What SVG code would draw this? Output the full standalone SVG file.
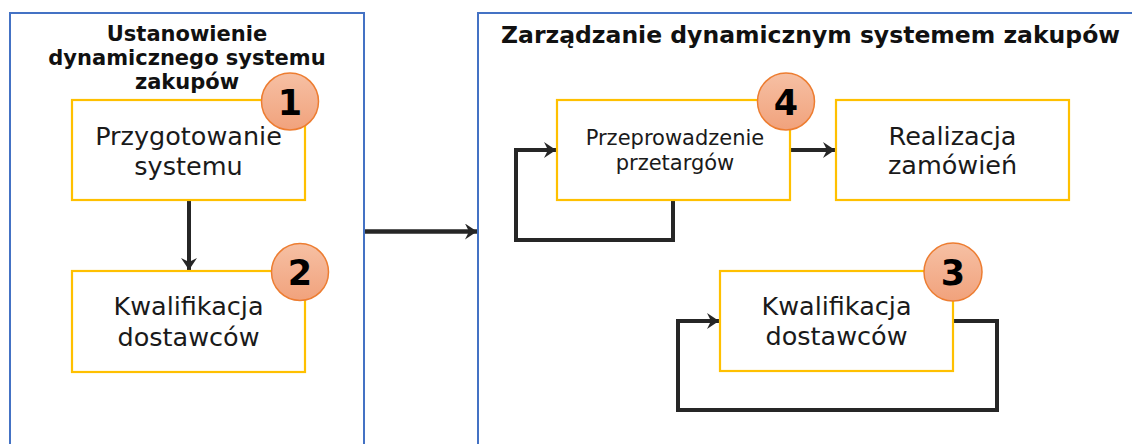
<svg xmlns="http://www.w3.org/2000/svg" width="1132" height="444" viewBox="0 0 1132 444">
  <defs>
    <style>
      .panel { fill: #ffffff; stroke: #4472C4; stroke-width: 2; }
      .box { fill: #ffffff; stroke: #FFC000; stroke-width: 2.2; }
      .title { font-family: "DejaVu Sans", Verdana, sans-serif; font-weight: bold; fill: #111111; }
      .lbl { font-family: "DejaVu Sans", Verdana, sans-serif; fill: #1a1a1a; text-anchor: middle; }
      .num { font-family: "DejaVu Sans", Verdana, sans-serif; font-weight: bold; font-size: 35px; fill: #000000; text-anchor: middle; }
      .badge { fill: url(#badgeGrad); stroke: #ED7D31; stroke-width: 1.5; }
      .conn { fill: none; stroke: #262626; stroke-width: 4; stroke-linejoin: miter; }
    </style>
    <linearGradient id="badgeGrad" x1="0" y1="0" x2="0" y2="1">
      <stop offset="0" stop-color="#F6C0A4"/>
      <stop offset="1" stop-color="#F1A27C"/>
    </linearGradient>
    <marker id="arr" markerUnits="userSpaceOnUse" markerWidth="18" markerHeight="18" refX="12" refY="8" orient="auto">
      <path d="M0,0 L12,8 L0,16 L4,8 z" fill="#262626"/>
    </marker>
  </defs>

  <g id="panel-left">
    <rect class="panel" x="10" y="13" width="354" height="445"/>
    <text class="title" font-size="21" text-anchor="middle" x="187" y="41">Ustanowienie</text>
    <text class="title" font-size="21" text-anchor="middle" x="187" y="65">dynamicznego systemu</text>
    <text class="title" font-size="21" text-anchor="middle" x="187" y="89">zakupów</text>
  </g>

  <g id="panel-right">
    <rect class="panel" x="478" y="13" width="670" height="445"/>
    <text class="title" font-size="23.5" x="501" y="43">Zarządzanie dynamicznym systemem zakupów</text>
  </g>

  <g id="connectors">
    <line class="conn" x1="189" y1="200" x2="189" y2="270" marker-end="url(#arr)"/>
    <line class="conn" x1="365" y1="231.5" x2="477" y2="231.5" marker-end="url(#arr)" style="stroke-width:4.5"/>
    <polyline class="conn" points="673,200 673,240 516,240 516,150 556,150" marker-end="url(#arr)"/>
    <line class="conn" x1="791" y1="150" x2="835" y2="150" marker-end="url(#arr)"/>
    <polyline class="conn" points="953,321 997,321 997,410 678,410 678,321 719,321" marker-end="url(#arr)"/>
  </g>

  <g id="node-1">
    <rect class="box" x="72" y="100" width="233" height="100"/>
    <text class="lbl" font-size="25.5" x="188.5" y="145">Przygotowanie</text>
    <text class="lbl" font-size="25.5" x="188.5" y="175">systemu</text>
    <circle class="badge" cx="290" cy="101.5" r="28.5"/>
    <text class="num" x="290" y="114.5">1</text>
  </g>

  <g id="node-2">
    <rect class="box" x="72" y="271" width="233" height="101"/>
    <text class="lbl" font-size="25.5" x="188.5" y="315">Kwalifikacja</text>
    <text class="lbl" font-size="25.5" x="188.5" y="346">dostawców</text>
    <circle class="badge" cx="300" cy="272" r="28.5"/>
    <text class="num" x="300" y="285">2</text>
  </g>

  <g id="node-4">
    <rect class="box" x="557" y="100" width="233" height="100"/>
    <text class="lbl" font-size="21" x="675" y="145">Przeprowadzenie</text>
    <text class="lbl" font-size="21" x="675" y="170">przetargów</text>
    <circle class="badge" cx="786" cy="101.5" r="28.5"/>
    <text class="num" x="786" y="114.5">4</text>
  </g>

  <g id="node-realizacja">
    <rect class="box" x="836" y="100" width="233" height="100"/>
    <text class="lbl" font-size="25.5" x="952.5" y="145">Realizacja</text>
    <text class="lbl" font-size="25.5" x="952.5" y="174">zamówień</text>
  </g>

  <g id="node-3">
    <rect class="box" x="720" y="271" width="233" height="100"/>
    <text class="lbl" font-size="25.5" x="836.5" y="315">Kwalifikacja</text>
    <text class="lbl" font-size="25.5" x="836.5" y="345">dostawców</text>
    <circle class="badge" cx="953" cy="272" r="29"/>
    <text class="num" x="953" y="285">3</text>
  </g>
</svg>
